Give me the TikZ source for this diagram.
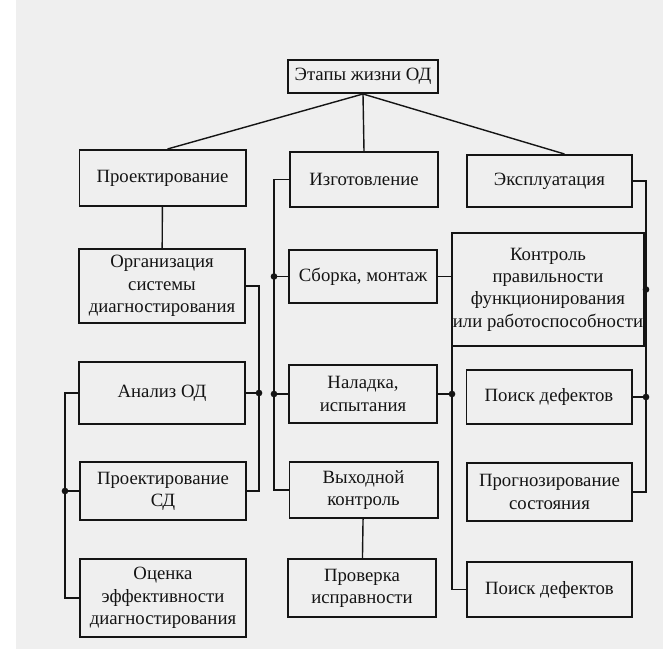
\documentclass[tikz,border=0pt]{standalone}
\usepackage{fontspec}
\setmainfont{Liberation Serif}
\usepackage{tikz}
\definecolor{paper}{HTML}{EFEFEF}
\definecolor{ink}{HTML}{141414}

\tikzset{
  blk/.style={draw=ink, line width=1.7pt, align=center, inner sep=1pt,
    font=\fontsize{16}{19}\selectfont, text=ink},
  colA/.style={blk, minimum width=4.98cm},
  colB/.style={blk, minimum width=4.44cm},
  colC/.style={blk, minimum width=4.95cm},
  link/.style={draw=ink, line width=1.2pt},
  dot/.style={circle, fill=ink, inner sep=0pt, minimum size=0.2cm}
}

\begin{document}
\begin{tikzpicture}[x=0.03cm, y=-0.03cm]

% Sheet
\fill[paper] (0,0) rectangle (663,649);
\fill[white] (0,0) rectangle (16,649);
\useasboundingbox (0,0) rectangle (663,649);

% Top level
\node[blk, minimum width=4.5cm, minimum height=0.99cm] (od) at (363,76.5) {Этапы жизни ОД};

% Left column
\node[colA, minimum height=1.68cm] (proj) at (162.5,178) {Проектирование};
\node[colA, minimum height=2.22cm] (org) at (162,286) {Организация\\системы\\диагностирования};
\node[colA, minimum height=1.86cm] (anal) at (162,393) {Анализ ОД};
\node[colA, minimum height=1.74cm] (projsd) at (163,491) {Проектирование\\СД};
\node[colA, minimum height=2.34cm] (ocen) at (163,598) {Оценка\\эффективности\\диагностирования};

% Middle column
\node[colB, minimum height=1.65cm] (izg) at (364,179.5) {Изготовление};
\node[colB, minimum height=1.59cm] (sbor) at (363,276.5) {Сборка, монтаж};
\node[colB, minimum height=1.74cm] (nal) at (363,394) {Наладка,\\испытания};
\node[colB, minimum height=1.68cm] (vyh) at (363.5,490) {Выходной\\контроль};
\node[colB, minimum height=1.74cm] (prov) at (362,588) {Проверка\\исправности};

% Right column
\node[colC, minimum height=1.56cm] (expl) at (549.5,181) {Эксплуатация};
\node[blk, minimum width=5.34cm, minimum height=3.39cm] (kontr) at (548,289.5) {Контроль\\правильности\\функционирования\\или работоспособности};
\node[colC, minimum height=1.62cm] (poisk1) at (549,397) {Поиск дефектов};
\node[colC, minimum height=1.74cm] (prog) at (549.5,492) {Прогнозирование\\состояния};
\node[colC, minimum height=1.65cm] (poisk2) at (549.5,589.5) {Поиск дефектов};

% Branches from the top
\draw[link] (od.south) -- ([xshift=0.15cm]proj.north);
\draw[link] (od.south) -- (izg.north);
\draw[link] (od.south) -- ([xshift=0.45cm]expl.north);
\draw[link] (proj) -- (org);
\draw[link] (vyh) -- (prov);

% Bus lines
\coordinate (busA) at (65,0);
\coordinate (busB) at (259,0);
\coordinate (busC) at (274,0);
\coordinate (busD) at (452,0);
\coordinate (busE) at (646,0);

\draw[link] (org.east) -| (busB |- projsd.east) -- (projsd.east);
\draw[link] (anal.east) -- (busB |- anal.east) node[dot] {};
\draw[link] (anal.west) -| (busA |- ocen.west) -- (ocen.west);
\draw[link] (projsd.west) -- (busA |- projsd.west) node[dot] {};

\draw[link] (izg.west) -| (busC |- vyh.west) -- (vyh.west);
\draw[link] (sbor.west) -- (busC |- sbor.west) node[dot] {};
\draw[link] (nal.west) -- (busC |- nal.west) node[dot] {};
\draw[link] (sbor.east) -| (busD |- poisk2.west) -- (poisk2.west);
\draw[link] (nal.east) -- (busD |- nal.east) node[dot] {};

\draw[link] (expl.east) -| (busE |- prog.east) -- (prog.east);
\draw[link] (kontr.east) -- (busE |- kontr.east) node[dot] {};
\draw[link] (poisk1.east) -- (busE |- poisk1.east) node[dot] {};

\end{tikzpicture}
\end{document}
